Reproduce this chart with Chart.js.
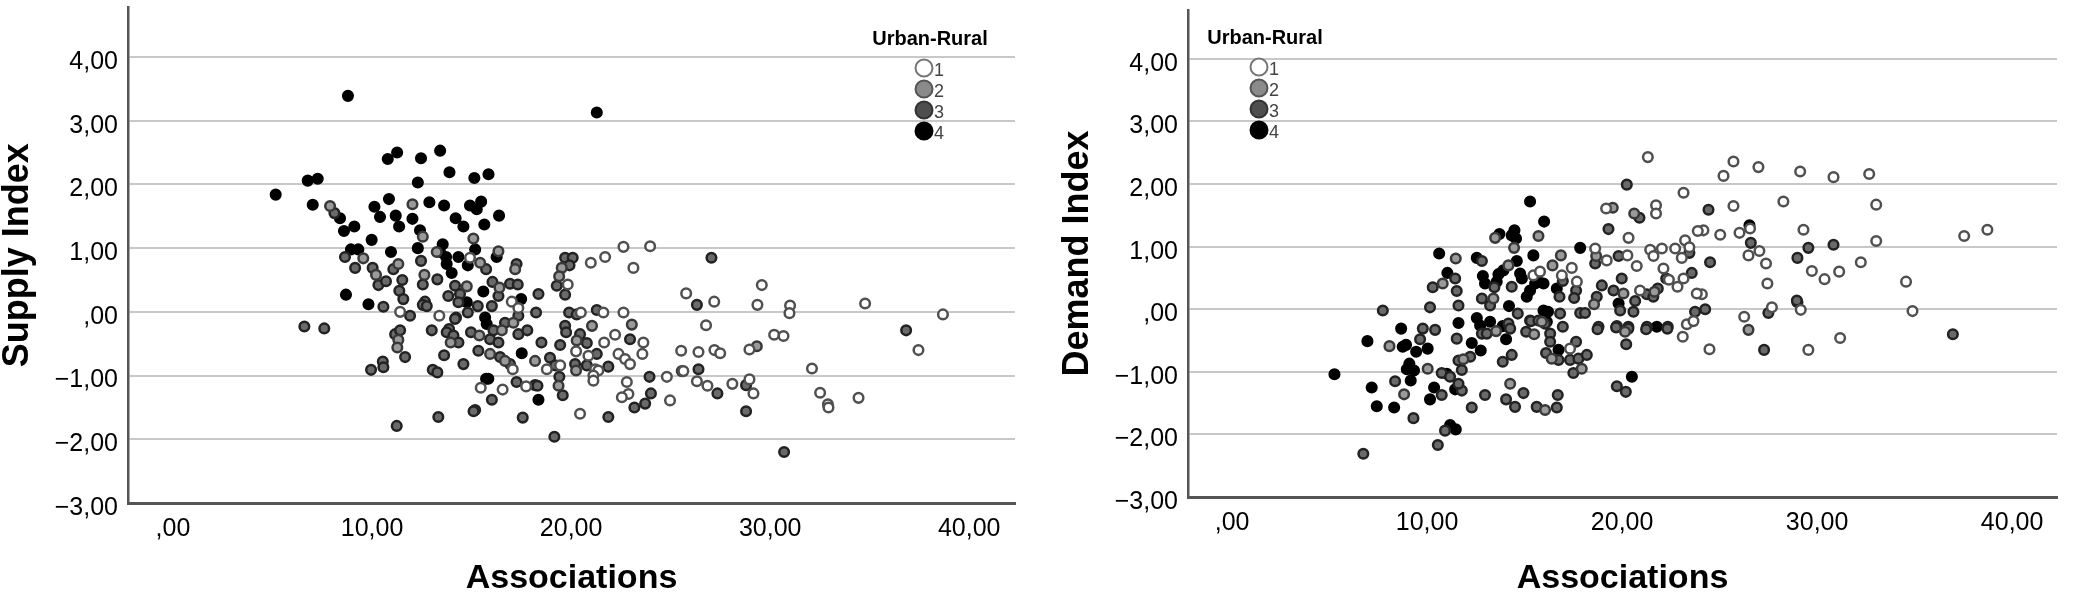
<!DOCTYPE html>
<html>
<head>
<meta charset="utf-8">
<script src="https://cdn.jsdelivr.net/npm/chart.js@4"></script>
<style>
  body { margin: 0; background: #fff; }
  #wrap { position: relative; width: 2080px; height: 597px; }
  canvas { position: absolute; top: 0; }
  #supplyChart { left: 0; }
  #demandChart { left: 1040px; }
</style>
</head>
<body>
<div id="wrap">
  <canvas id="supplyChart" width="1040" height="597"></canvas>
  <canvas id="demandChart" width="1040" height="597"></canvas>
</div>
<script>
// tick values and labels
const xTicks = [0, 10, 20, 30, 40];
const yTicks = [-3, -2, -1, 0, 1, 2, 3, 4];
const groupLabels = ["1", "2", "3", "4"];
const legendTitle = "Urban-Rural";

// Supply Index vs Associations, by urban-rural group ([x, y])
const supply1 = [[14.92,0.85],[17.02,0.16],[19.83,0.43],[20.99,0.77],[21.71,0.86],[22.63,1.02],[23.97,1.03],[23.13,0.69],
  [20.49,-0.01],[21.62,-0.01],[22.63,-0.01],[13.38,-0.06],[11.41,0.00],[17.35,0.06],[17.07,-0.90],[15.46,-1.19],
  [16.56,-1.22],[17.74,-1.17],[18.78,-0.90],[19.45,-0.84],[20.25,-0.62],[20.87,-0.69],[21.21,-0.90],[21.37,-0.92],
  [21.12,-1.00],[21.12,-1.08],[20.45,-1.60],[21.66,-0.48],[22.21,-0.36],[22.38,-0.66],[22.71,-0.74],[22.96,-0.82],
  [23.63,-0.48],[23.58,-0.66],[22.80,-1.10],[22.88,-1.29],[22.55,-1.34],[24.81,-1.02],[24.97,-1.39],[25.53,-0.61],
  [26.40,-0.63],[25.64,-0.93],[26.32,-1.09],[26.85,-1.16],[26.78,-0.21],[27.20,-0.60],[27.49,-0.65],[27.19,0.16],
  [28.10,-1.13],[28.96,-1.06],[29.16,-1.28],[28.96,-0.59],[29.36,0.11],[30.20,-0.36],[30.67,-0.38],[31.00,0.10],
  [30.97,-0.02],[32.10,-0.89],[32.51,-1.27],[32.90,-1.45],[32.93,-1.50],[34.44,-1.35],[34.77,0.13],[37.45,-0.60],
  [38.68,-0.04],[29.58,0.42],[25.78,0.29]];
const supply2 = [[7.89,1.66],[12.03,1.69],[12.55,1.18],[15.09,1.15],[16.35,0.95],[13.25,0.94],[9.56,0.84],[10.20,0.58],
  [11.32,0.75],[12.63,0.58],[14.76,0.40],[15.43,0.77],[16.40,0.38],[17.19,0.67],[19.53,0.69],[19.40,0.56],
  [11.32,-0.44],[11.27,-0.56],[13.95,-0.48],[15.39,-0.37],[16.52,-0.29],[17.10,-0.17],[15.93,-0.66],[16.68,-0.77],
  [18.19,-0.77],[19.37,-1.16],[20.28,-0.45],[20.25,-0.92],[21.05,-0.22],[23.05,-0.20],[25.56,-0.93],[29.33,-0.54]];
const supply3 = [[8.11,1.55],[8.64,0.86],[9.15,0.69],[10.03,0.69],[10.32,0.42],[10.70,0.48],[11.07,0.67],[11.52,0.50],
  [11.37,0.33],[11.57,0.20],[12.46,0.80],[12.55,0.43],[12.66,0.16],[13.28,0.51],[13.83,0.25],[14.17,0.41],
  [14.42,0.28],[14.34,0.15],[15.73,0.67],[16.05,0.47],[16.35,0.25],[16.02,0.09],[15.31,0.09],[17.26,0.75],
  [16.93,0.44],[17.32,0.43],[18.36,0.28],[18.24,-0.01],[19.70,0.85],[20.08,0.85],[19.92,0.73],[19.28,0.41],
  [19.70,0.27],[19.90,-0.01],[20.28,-0.04],[21.29,0.03],[11.91,-0.06],[10.57,0.08],[14.22,-0.09],[14.81,-0.01],
  [6.60,-0.23],[7.60,-0.26],[11.16,-0.35],[11.41,-0.29],[11.66,-0.71],[10.54,-0.78],[10.57,-0.87],[9.95,-0.91],
  [11.24,-1.79],[13.00,-0.29],[12.55,0.11],[12.75,0.09],[14.17,-0.11],[13.87,-0.27],[13.75,-0.32],[14.09,-0.37],
  [14.34,-0.48],[13.62,-0.68],[14.59,-0.82],[13.05,-0.91],[13.28,-0.95],[13.33,-1.65],[14.97,-0.32],[15.93,-0.43],
  [16.35,-0.48],[16.10,-0.29],[16.68,-0.17],[17.35,-0.06],[15.34,-0.61],[16.43,-0.71],[16.93,-0.82],[17.35,-0.35],
  [17.80,-0.29],[16.02,-1.38],[15.18,-1.54],[15.10,-1.56],[17.57,-1.66],[17.26,-1.10],[18.19,-1.15],[18.31,-1.16],
  [18.51,-0.48],[18.94,-0.72],[19.20,-0.84],[19.41,-1.02],[19.58,-1.31],[19.16,-1.96],[19.45,-0.52],[19.70,-0.22],
  [19.75,-0.32],[20.45,-0.35],[20.79,-0.49],[21.29,-0.66],[20.20,-0.82],[20.79,-0.84],[21.87,-1.65],[21.87,-0.86],
  [22.96,-0.43],[23.18,-1.50],[23.72,-1.44],[23.94,-1.02],[24.01,-1.28],[26.40,-0.90],[27.35,-1.28],[26.32,0.11],
  [28.79,-1.15],[28.79,-1.56],[30.70,-2.20],[36.83,-0.29],[27.05,0.85]];
const supply4 = [[5.16,1.84],[6.77,2.06],[7.27,2.09],[7.02,1.68],[8.79,3.39],[10.79,2.40],[11.26,2.50],[12.46,2.41],
  [13.42,2.53],[13.89,2.19],[15.14,2.10],[15.85,2.16],[12.30,2.03],[10.85,1.77],[10.12,1.65],[10.40,1.49],
  [11.19,1.51],[11.36,1.34],[12.03,1.46],[12.88,1.72],[13.62,1.67],[14.20,1.47],[14.59,1.34],[14.92,1.67],
  [15.48,1.73],[15.26,1.61],[15.64,1.37],[16.38,1.51],[9.98,1.13],[10.95,0.94],[12.30,1.00],[12.41,1.28],
  [13.55,1.06],[13.42,0.94],[13.72,0.86],[13.75,0.75],[14.00,0.61],[14.34,0.86],[15.18,0.98],[14.81,0.73],
  [16.26,0.86],[8.69,0.27],[9.82,0.12],[15.59,0.32],[17.49,0.20],[14.76,0.15],[8.59,1.27],[9.11,1.34],
  [8.39,1.47],[8.94,0.98],[9.31,0.98],[21.29,3.13],[15.68,-0.09],[15.76,-0.19],[17.52,-0.65],[18.36,-1.38],
  [15.73,-1.05],[15.84,-1.05]];

// Demand Index vs Associations, by urban-rural group ([x, y])
const demand1 = [[21.32,2.43],[23.15,1.86],[24.17,1.26],[15.45,0.54],[15.79,0.60],[16.91,0.54],[17.42,0.66],[17.68,0.44],
  [18.62,0.97],[19.21,0.78],[20.27,0.86],[20.75,0.69],[20.33,1.14],[19.18,1.61],[21.74,1.66],[21.74,1.53],
  [21.44,0.95],[21.61,0.85],[22.04,0.97],[22.72,0.97],[23.23,1.10],[23.45,0.99],[23.06,0.82],[22.12,0.65],
  [22.40,0.47],[23.15,0.49],[22.84,0.36],[24.09,0.24],[20.92,0.30],[23.32,-0.24],[23.66,-0.19],[23.11,-0.44],
  [24.48,-0.64],[17.33,-0.63],[26.26,-0.12],[27.68,0.03],[29.16,-0.01],[29.55,-0.65],[31.18,-0.46],[34.89,-0.03],
  [25.71,2.36],[25.20,2.13],[26.99,2.27],[29.13,2.20],[30.84,2.11],[32.67,2.16],[33.03,1.67],[25.71,1.65],
  [28.27,1.72],[26.56,1.29],[26.02,1.22],[25.03,1.19],[23.88,1.25],[27.04,0.93],[26.48,0.86],[27.38,0.73],
  [27.45,0.41],[29.30,1.27],[29.73,0.61],[30.38,0.48],[31.13,0.60],[32.24,0.75],[33.03,1.09],[34.56,0.44],
  [37.54,1.17],[38.73,1.27],[23.83,0.25]];
const demand2 = [[13.49,1.14],[15.71,1.17],[14.46,0.98],[16.86,0.86],[16.43,0.70],[14.17,0.70],[11.47,0.81],[10.80,0.41],
  [18.67,0.85],[19.52,1.62],[20.62,1.53],[21.66,0.28],[20.07,0.25],[18.56,0.08],[15.88,-0.20],[13.40,0.17],
  [8.07,-0.59],[10.03,-0.95],[8.82,-1.36],[11.86,-0.80],[13.54,-0.35],[14.26,-1.19],[16.05,-1.61],[15.49,-0.40],
  [16.39,-0.79],[17.93,-0.95],[20.15,-0.36],[26.48,-0.33]];
const demand3 = [[20.24,1.99],[24.43,1.59],[24.51,0.75],[12.81,0.77],[11.44,0.49],[10.29,0.35],[11.52,0.29],[14.34,0.36],
  [13.45,0.35],[16.79,0.20],[16.96,0.45],[17.64,0.30],[17.54,0.18],[18.62,0.73],[19.82,0.85],[19.30,1.28],
  [20.89,1.46],[23.45,0.90],[22.26,0.49],[23.57,0.58],[24.26,0.00],[23.74,-0.04],[21.27,0.24],[21.83,0.33],
  [21.60,0.20],[19.98,0.49],[20.67,0.13],[20.58,-0.04],[19.90,-0.02],[19.56,0.30],[18.96,0.38],[18.70,0.20],
  [17.85,-0.06],[18.10,-0.06],[16.82,-0.07],[15.28,-0.18],[14.65,-0.07],[13.23,0.06],[12.81,0.17],[11.61,0.06],
  [10.15,0.03],[7.73,-0.02],[9.78,-0.31],[10.41,-0.33],[18.79,-0.28],[19.73,-0.27],[20.32,-0.28],[21.27,-0.28],
  [22.34,-0.28],[11.52,-0.47],[9.64,-0.48],[10.75,-1.02],[11.18,-1.08],[8.36,-1.15],[10.75,-1.37],[9.30,-1.74],
  [11.78,-1.30],[11.61,-1.19],[10.92,-1.94],[10.55,-2.17],[6.73,-2.31],[12.29,-1.57],[12.97,-1.37],[11.61,-0.82],
  [12.21,-0.76],[11.78,-0.97],[12.81,-0.39],[13.06,-0.39],[14.17,-0.23],[14.26,-0.31],[13.88,-0.84],[14.34,-0.73],
  [14.94,-1.34],[14.05,-1.44],[14.51,-1.56],[15.62,-1.56],[16.65,-1.57],[16.70,-1.37],[15.08,-0.36],[15.32,-0.19],
  [15.71,-0.18],[16.31,-0.39],[16.31,-0.52],[16.05,-0.23],[16.10,-0.70],[16.74,-0.81],[16.96,-0.28],[17.64,-0.52],
  [17.33,-0.81],[17.76,-0.79],[18.19,-0.73],[17.50,-1.02],[18.74,-0.32],[19.69,-0.29],[20.32,-0.31],[20.21,-0.56],
  [21.23,-0.32],[22.32,-0.31],[19.73,-1.23],[20.19,-1.32],[27.50,-0.06],[27.28,-0.65],[28.99,0.11],[36.96,-0.40],
  [26.60,1.06],[29.55,0.98],[28.99,0.82],[30.84,1.03],[28.96,0.14]];
const demand4 = [[15.28,1.72],[16.00,1.40],[13.71,1.20],[14.48,1.26],[14.56,1.13],[14.34,1.18],[15.45,0.86],[17.85,0.98],
  [14.60,0.77],[10.62,0.89],[12.55,0.82],[11.04,0.58],[12.86,0.53],[12.97,0.41],[13.66,0.56],[13.91,0.62],
  [13.57,0.44],[14.77,0.57],[14.86,0.49],[15.54,0.41],[15.71,0.44],[15.97,0.41],[15.28,0.30],[15.11,0.20],
  [16.65,0.33],[19.82,0.09],[15.97,-0.02],[16.20,-0.04],[16.14,-0.20],[14.20,0.05],[11.61,-0.22],[12.55,-0.14],
  [13.23,-0.20],[8.67,-0.31],[21.78,-0.28],[6.94,-0.51],[5.25,-1.04],[8.75,-0.60],[8.92,-0.57],[9.44,-0.68],
  [10.03,-0.63],[9.09,-0.87],[8.96,-0.96],[9.33,-0.98],[11.01,-1.03],[9.16,-1.14],[7.16,-1.25],[7.42,-1.55],
  [8.31,-1.57],[10.36,-1.25],[10.15,-1.44],[11.44,-1.28],[11.18,-1.85],[11.47,-1.92],[12.29,-0.54],[12.75,-0.66],
  [12.72,-0.26],[13.88,-0.27],[14.05,-0.48],[16.74,-0.65],[20.50,-1.08],[26.53,1.34]];

const FONT = "Arial, 'Liberation Sans', sans-serif";
const fills = ["#ffffff", "#9a9a9a", "#6a6a6a", "#000000"];
const borders = ["#505050", "#383838", "#222222", "#000000"];
const legendFills = ["#ffffff", "#8a8a8a", "#4e4e4e", "#000000"];
const legendBorders = ["#777777", "#555555", "#333333", "#000000"];

function fmt(v) {
    if (v === 0) return ",00";
    return v.toFixed(2).replace(".", ",").replace("-", "\u2212");
}

const urbanLegend = {
    id: "urbanLegend",
    afterDraw(chart, args, opts) {
        const ctx = chart.ctx;
        ctx.save();
        ctx.font = "bold 20px " + FONT;
        ctx.fillStyle = "#000";
        ctx.textAlign = "center";
        ctx.textBaseline = "middle";
        ctx.fillText(legendTitle, opts.x, opts.y);
        groupLabels.forEach((lab, i) => {
            const cy = opts.y + 29 + i * 21;
            const cx = opts.x - 6;
            ctx.beginPath();
            ctx.arc(cx, cy, 8.5, 0, Math.PI * 2);
            ctx.fillStyle = legendFills[i];
            ctx.fill();
            ctx.lineWidth = 2;
            ctx.strokeStyle = legendBorders[i];
            ctx.stroke();
            ctx.font = "18px " + FONT;
            ctx.fillStyle = "#444";
            ctx.textAlign = "left";
            ctx.fillText(lab, cx + 10, cy + 3);
        });
        ctx.restore();
    }
};

function drawScatter(id, groups, yTitle, geo) {
    new Chart(document.getElementById(id), {
        type: "scatter",
        data: {
            datasets: groups.map((g, i) => ({
                label: groupLabels[i],
                data: g.map(p => ({ x: p[0], y: p[1] })),
                backgroundColor: fills[i],
                borderColor: borders[i],
                borderWidth: 2.5,
                pointRadius: 4.8,
                pointHoverRadius: 4.8
            }))
        },
        options: {
            responsive: false,
            animation: false,
            layout: { padding: { top: geo.top, right: geo.right, left: 0, bottom: 0 } },
            plugins: {
                legend: { display: false },
                tooltip: { enabled: false },
                urbanLegend: { x: geo.legX, y: geo.legY }
            },
            scales: {
                x: {
                    type: "linear",
                    min: -2.26,
                    max: 42.3,
                    afterBuildTicks: s => { s.ticks = xTicks.map(v => ({ value: v })); },
                    afterFit: s => { s.height = geo.xh; s.paddingLeft = 0; s.paddingRight = 0; },
                    grid: { display: false, drawTicks: false },
                    border: { display: true, color: "#555", width: 3 },
                    ticks: { color: "#000", padding: 11, maxRotation: 0, font: { family: FONT, size: 25 }, callback: fmt },
                    title: { display: true, text: "Associations", color: "#000",
                        font: { family: FONT, size: 34, weight: "bold", lineHeight: 1 }, padding: { top: 0, bottom: 1 } }
                },
                y: {
                    type: "linear",
                    min: -3,
                    max: 4.78,
                    afterBuildTicks: s => { s.ticks = yTicks.map(v => ({ value: v })); },
                    afterFit: s => { s.width = geo.yw; s.paddingTop = 0; s.paddingBottom = 0; },
                    grid: { color: "#c8c8c8", lineWidth: 2, drawTicks: false },
                    border: { display: true, color: "#555", width: 2.5 },
                    ticks: { color: "#000", padding: 10, labelOffset: 5, font: { family: FONT, size: 25 }, callback: fmt },
                    title: { display: true, text: yTitle, color: "#000",
                        font: { family: FONT, size: 36, weight: "bold", lineHeight: 1 }, padding: { top: geo.tp, bottom: 0 } }
                }
            }
        },
        plugins: [urbanLegend]
    });
}

drawScatter("supplyChart", [supply1, supply2, supply3, supply4], "Supply Index",
    { top: 5, right: 25, xh: 94, yw: 128, tp: 0, legX: 930, legY: 39 });
drawScatter("demandChart", [demand1, demand2, demand3, demand4], "Demand Index",
    { top: 10, right: 23, xh: 100, yw: 148, tp: 20, legX: 225, legY: 38 });
</script>
</body>
</html>
